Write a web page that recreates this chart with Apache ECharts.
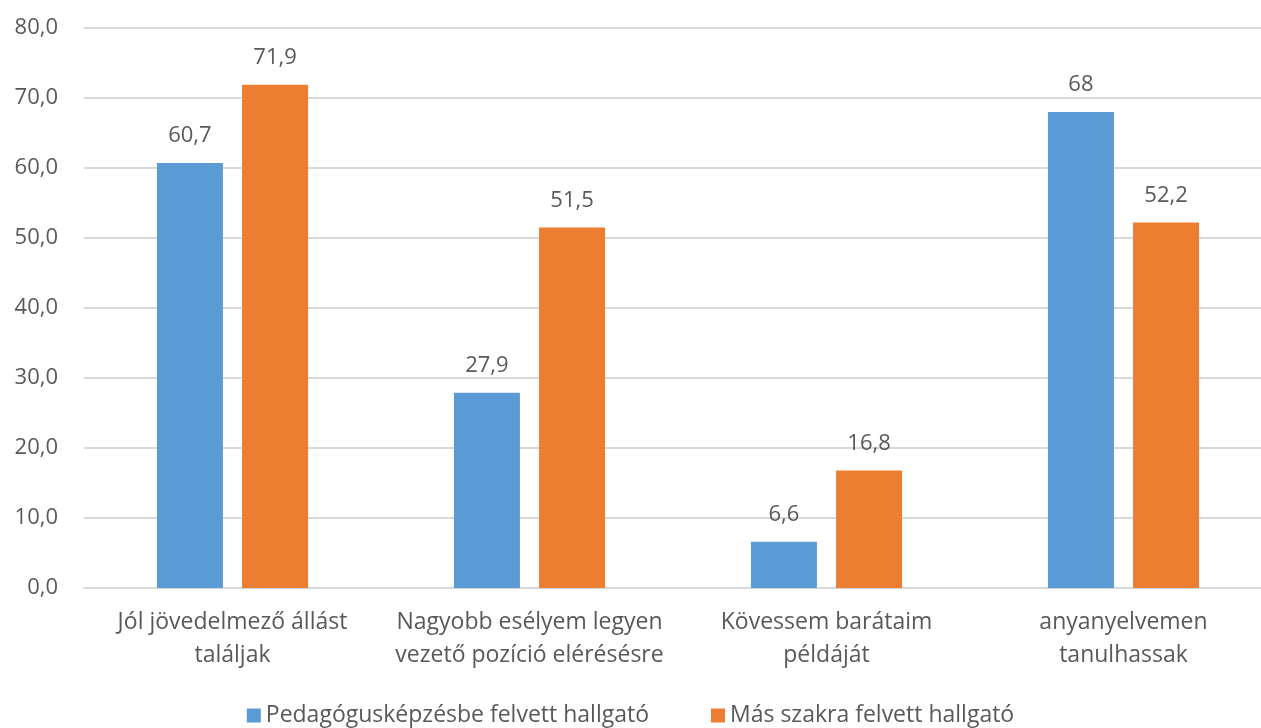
<!DOCTYPE html>
<html>
<head>
<meta charset="utf-8">
<script src="https://cdn.jsdelivr.net/npm/echarts@6/dist/echarts.min.js"></script>
<style>
  html, body { margin: 0; padding: 0; background: #fff; }
  #chart { width: 1261px; height: 728px; }
</style>
</head>
<body>
<div id="chart"></div>
<script>
const categories = [
  'Jól jövedelmező állást\ntaláljak',
  'Nagyobb esélyem legyen\nvezető pozíció elérésésre',
  'Kövessem barátaim\npéldáját',
  'anyanyelvemen\ntanulhassak'
];
const seriesNames = ['Pedagógusképzésbe felvett hallgató', 'Más szakra felvett hallgató'];
const pedagogusValues = [60.7, 27.9, 6.6, 68];
const masSzakValues = [71.9, 51.5, 16.8, 52.2];
const colors = ['#5b9bd5', '#ed7d31'];

const FONT = '"Open Sans", sans-serif';
const TEXT = '#595959';
const SIZE = 22;
const WIDE_SIZE = 23;

const chart = echarts.init(document.getElementById('chart'));

function barSeries(name, data, color) {
  return {
    name: name,
    type: 'bar',
    data: data,
    barWidth: 66,
    barGap: '29%',
    itemStyle: { color: color },
    label: {
      show: true,
      position: 'top',
      distance: 16,
      color: TEXT,
      fontFamily: FONT,
      fontSize: SIZE,
      formatter: p => String(p.value).replace('.', ',')
    }
  };
}

chart.setOption({
  animation: false,
  textStyle: { fontFamily: FONT },
  grid: { left: 84, width: 1188, top: 28, bottom: 140, outerBoundsMode: 'none', containLabel: false },
  legend: {
    bottom: -4,
    left: 'center',
    itemWidth: 14,
    itemHeight: 14,
    itemGap: 62,
    icon: 'rect',
    textStyle: { color: TEXT, fontFamily: FONT, fontSize: WIDE_SIZE },
    data: seriesNames
  },
  xAxis: {
    type: 'category',
    data: categories,
    axisLine: { lineStyle: { color: '#d9d9d9', width: 2 } },
    axisTick: { show: false },
    axisLabel: {
      color: TEXT,
      fontFamily: FONT,
      fontSize: WIDE_SIZE,
      lineHeight: 33,
      margin: 18,
      interval: 0
    }
  },
  yAxis: {
    type: 'value',
    min: 0,
    max: 80,
    interval: 10,
    axisLine: { show: false },
    axisTick: { show: false },
    splitLine: { lineStyle: { color: '#d9d9d9', width: 2 } },
    axisLabel: {
      color: TEXT,
      fontFamily: FONT,
      fontSize: SIZE,
      margin: 26,
      formatter: v => v.toFixed(1).replace('.', ',')
    }
  },
  series: [
    barSeries(seriesNames[0], pedagogusValues, colors[0]),
    barSeries(seriesNames[1], masSzakValues, colors[1])
  ]
});
</script>
</body>
</html>
